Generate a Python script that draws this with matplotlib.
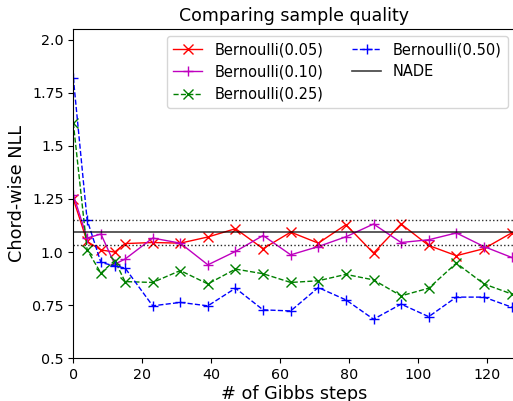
import matplotlib
matplotlib.use('Agg')
import matplotlib.pyplot as plt

# Datos
steps = [0, 4, 8, 12, 15, 23, 31, 39, 47, 55, 63, 71, 79, 87, 95, 103, 111, 119, 127]

b05 = [1.25, 1.05, 1.01, 1.00, 1.04, 1.045, 1.042, 1.071, 1.11, 1.016, 1.094, 1.042, 1.129,
       0.995, 1.132, 1.031, 0.983, 1.016, 1.09]
b10 = [1.27, 1.066, 1.085, 0.943, 0.967, 1.066, 1.042, 0.94, 1.003, 1.078, 0.987, 1.026, 1.072,
       1.132, 1.045, 1.058, 1.09, 1.026, 0.975]
b25 = [1.608, 1.011, 0.901, 0.96, 0.861, 0.857, 0.913, 0.85, 0.92, 0.898, 0.857, 0.865, 0.895,
       0.869, 0.794, 0.83, 0.948, 0.85, 0.803]
b50 = [1.821, 1.152, 0.951, 0.935, 0.925, 0.747, 0.763, 0.747, 0.83, 0.728, 0.723, 0.833, 0.775,
       0.684, 0.755, 0.696, 0.788, 0.788, 0.741]

nade = 1.093
nade_lo = 1.031
nade_hi = 1.152

yticks = [0.5, 0.75, 1.0, 1.25, 1.5, 1.75, 2.0]
yticklabels = ["0.5", "0.75", "1.0", "1.25", "1.5", "1.75", "2.0"]

fig = plt.figure(figsize=(5.13, 4.01), dpi=100)
ax = fig.add_axes([73.3 / 513, 42.7 / 401, 441.7 / 513, 329.3 / 401])

ax.plot(steps, b05, 'r-', marker='x', ms=7, lw=1, label="Bernoulli(0.05)")
ax.plot(steps, b10, 'm-', marker='+', ms=7, lw=1, label="Bernoulli(0.10)")
ax.plot(steps, b25, 'g--', marker='x', ms=7, lw=1, label="Bernoulli(0.25)")
ax.plot(steps, b50, 'b--', marker='+', ms=7, lw=1, label="Bernoulli(0.50)")
ax.axhline(nade, color='k', lw=1.2, alpha=0.75, label="NADE")
ax.axhline(nade_lo, color='k', ls=':', lw=1, alpha=0.85)
ax.axhline(nade_hi, color='k', ls=':', lw=1, alpha=0.85)

ax.set_xlim(0, 128)
ax.set_ylim(0.5, 2.05)
ax.set_yticks(yticks)
ax.set_yticklabels(yticklabels)
ax.set_xticks([0, 20, 40, 60, 80, 100, 120])
ax.tick_params(labelsize=10.3)

ax.set_title("Comparing sample quality", fontsize=12.5)
ax.set_xlabel("# of Gibbs steps", fontsize=12.7, labelpad=2)
ax.set_ylabel("Chord-wise NLL", fontsize=12.7)
ax.legend(loc='upper right', ncol=2, fontsize=10.5)

fig.savefig("out.png", dpi=100)
